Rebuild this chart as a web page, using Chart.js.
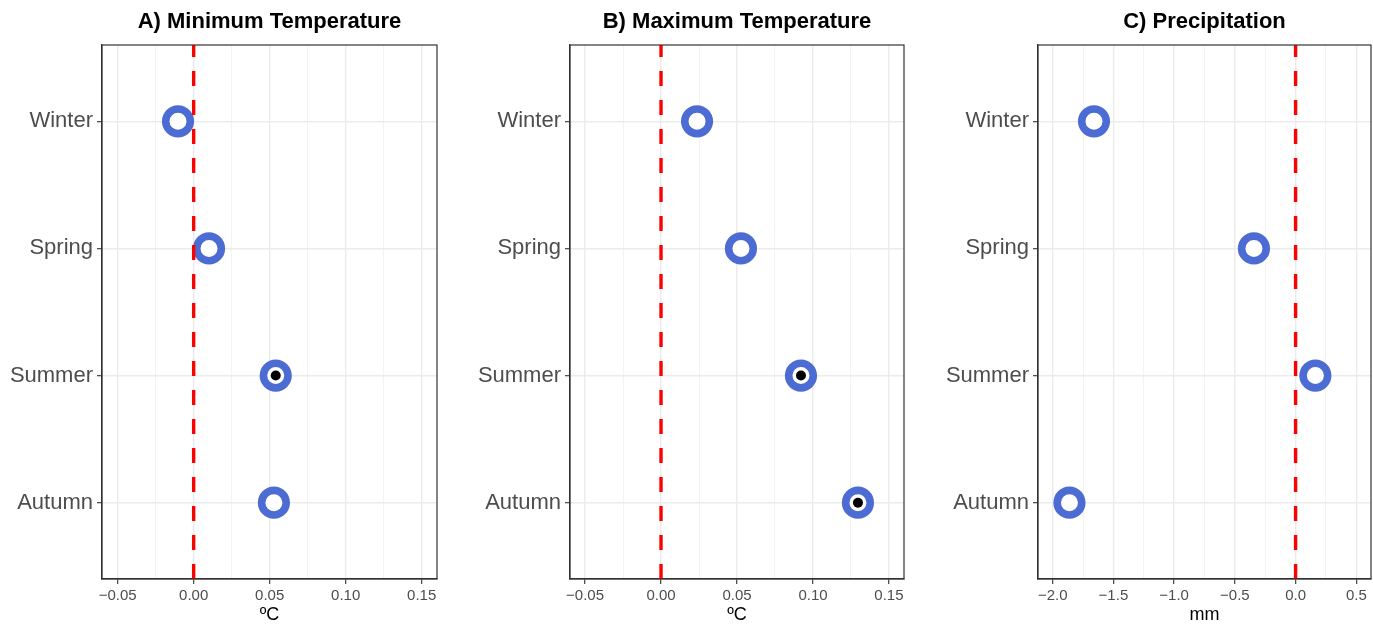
<!DOCTYPE html>
<html>
<head>
<meta charset="utf-8">
<script src="https://cdn.jsdelivr.net/npm/chart.js@4/dist/chart.umd.min.js"></script>
<style>
  html, body { margin: 0; padding: 0; background: #ffffff; }
  body { width: 1373px; height: 624px; position: relative; overflow: hidden; }
  canvas { position: absolute; top: 0; }
</style>
</head>
<body>
<canvas id="cA" width="445" height="624" style="left:0px"></canvas>
<canvas id="cB" width="445" height="624" style="left:467px"></canvas>
<canvas id="cC" width="438" height="624" style="left:935px"></canvas>
<script>
const categories = ['Winter', 'Spring', 'Summer', 'Autumn'];

const minTemp = [-0.0103, 0.0101, 0.0540, 0.0528];
const maxTemp = [0.0237, 0.0526, 0.0921, 0.1296];
const precip = [-1.66, -0.343, 0.163, -1.862];

const sigMinTemp = [false, false, true, false];
const sigMaxTemp = [false, false, true, true];
const sigPrecip = [false, false, false, false];

const tempTicks = [-0.05, 0.00, 0.05, 0.10, 0.15];
const tempTickLabels = ['\u22120.05', '0.00', '0.05', '0.10', '0.15'];
const precipTicks = [-2.0, -1.5, -1.0, -0.5, 0.0, 0.5];
const precipTickLabels = ['\u22122.0', '\u22121.5', '\u22121.0', '\u22120.5', '0.0', '0.5'];

const FONT = '"Liberation Sans", Arial, Helvetica, sans-serif';
const RING = '#4C6CD3';

const framePlugin = {
  id: 'frame',
  afterDraw(chart) {
    const a = chart.chartArea, ctx = chart.ctx;
    ctx.save();
    ctx.strokeStyle = '#333333';
    ctx.lineWidth = 1.2;
    ctx.strokeRect(a.left, a.top, a.right - a.left, a.bottom - a.top);
    ctx.restore();
  }
};

function isMajor(v, majors) {
  return majors.some(m => Math.abs(m - v) < 1e-9);
}

function makePanel(id, title, values, sig, xmin, xmax, majors, majorLabels, axisTitle, yWidth, padRight) {
  const minors = [];
  for (let i = 0; i < majors.length - 1; i++) minors.push((majors[i] + majors[i + 1]) / 2);
  const allTicks = majors.concat(minors).sort((a, b) => a - b);

  const rings = values.map((v, i) => ({ x: v, y: i + 1 }));
  const dots = values.map((v, i) => sig[i] ? { x: v, y: i + 1 } : null).filter(p => p);

  new Chart(document.getElementById(id), {
    type: 'scatter',
    data: {
      datasets: [
        {
          type: 'line',
          order: 0,
          data: [{ x: 0, y: 4.6 }, { x: 0, y: 0.4 }],
          borderColor: '#FF0000',
          borderWidth: 3.4,
          borderDash: [15, 14],
          borderCapStyle: 'butt',
          pointRadius: 0,
          fill: false
        },
        {
          order: 1,
          data: dots,
          pointRadius: 5,
          pointBackgroundColor: '#000000',
          pointBorderWidth: 0,
          pointBorderColor: '#000000'
        },
        {
          order: 2,
          data: rings,
          pointRadius: 12.3,
          pointBackgroundColor: '#FFFFFF',
          pointBorderColor: RING,
          pointBorderWidth: 7.6
        }
      ]
    },
    options: {
      responsive: false,
      animation: false,
      devicePixelRatio: 1,
      layout: { autoPadding: false, padding: { top: 0, right: padRight, bottom: 0, left: 0 } },
      plugins: {
        legend: { display: false },
        tooltip: { enabled: false },
        title: {
          display: true,
          text: title,
          fullSize: false,
          color: '#000000',
          font: { family: FONT, size: 22, weight: 'bold', lineHeight: 1 },
          padding: { top: 11, bottom: 12 }
        }
      },
      scales: {
        x: {
          type: 'linear',
          min: xmin,
          max: xmax,
          afterBuildTicks: (s) => { s.ticks = allTicks.map(v => ({ value: v })); },
          afterFit: (s) => { s.height = 45; s.paddingLeft = 0; s.paddingRight = 0; },
          ticks: {
            autoSkip: false,
            maxRotation: 0,
            padding: 3,
            color: '#4D4D4D',
            font: { family: FONT, size: 15 },
            callback: (v) => {
              const k = majors.findIndex(m => Math.abs(m - v) < 1e-9);
              return k >= 0 ? majorLabels[k] : '';
            }
          },
          grid: {
            color: (c) => (c.tick && isMajor(c.tick.value, majors)) ? '#EBEBEB' : '#F3F3F3',
            lineWidth: (c) => (c.tick && isMajor(c.tick.value, majors)) ? 1.4 : 1,
            tickColor: (c) => (c.tick && isMajor(c.tick.value, majors)) ? '#333333' : 'rgba(0,0,0,0)',
            tickLength: 5,
            tickWidth: 1.1
          },
          border: { display: true, color: '#333333', width: 1.2 },
          title: {
            display: true,
            text: axisTitle,
            color: '#000000',
            font: { family: FONT, size: 18, lineHeight: 1 },
            padding: { top: 0, bottom: 0 }
          }
        },
        y: {
          type: 'linear',
          min: 0.4,
          max: 4.6,
          reverse: true,
          afterBuildTicks: (s) => { s.ticks = categories.map((c, i) => ({ value: i + 1 })); },
          afterFit: (s) => { s.width = yWidth; s.paddingTop = 0; s.paddingBottom = 0; },
          ticks: {
            autoSkip: false,
            padding: 4,
            color: '#4D4D4D',
            font: { family: FONT, size: 22 },
            callback: (v) => categories[Math.round(v) - 1] || ''
          },
          grid: {
            color: '#EBEBEB',
            lineWidth: 1.4,
            tickColor: '#333333',
            tickLength: 5,
            tickWidth: 1.1
          },
          border: { display: true, color: '#333333', width: 1.2 }
        }
      }
    },
    plugins: [framePlugin]
  });
}

makePanel('cA', 'A) Minimum Temperature', minTemp, sigMinTemp, -0.0603, 0.1601, tempTicks, tempTickLabels, '\u00BAC', 102, 8);
makePanel('cB', 'B) Maximum Temperature', maxTemp, sigMaxTemp, -0.0599, 0.1599, tempTicks, tempTickLabels, '\u00BAC', 103, 8);
makePanel('cC', 'C) Precipitation', precip, sigPrecip, -2.121, 0.621, precipTicks, precipTickLabels, 'mm', 103, 2);
</script>
</body>
</html>
